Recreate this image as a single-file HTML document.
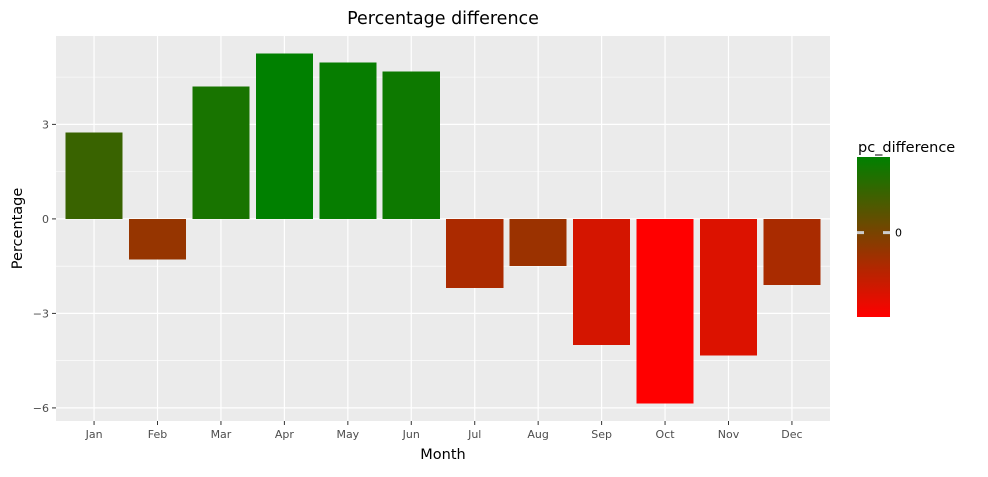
<!DOCTYPE html>
<html><head><meta charset="utf-8"><style>
body{margin:0;background:#fff;font-family:"Liberation Sans","DejaVu Sans",sans-serif}
svg text{font-family:"DejaVu Sans","Liberation Sans",sans-serif}
</style></head><body>
<svg id="c" width="988" height="472"></svg>
<script>
const categories=["Jan","Feb","Mar","Apr","May","Jun","Jul","Aug","Sep","Oct","Nov","Dec"];
const values=[2.75,-1.29,4.2,5.25,4.97,4.68,-2.2,-1.5,-4.0,-5.86,-4.33,-2.1];
const yTicks=[3,0,-3,-6];
const yMinor=[4.5,1.5,-1.5,-4.5];
const NS="http://www.w3.org/2000/svg";
const svg=document.getElementById('c');
function mk(t,a,p){const e=document.createElementNS(NS,t);for(const k in a)e.setAttribute(k,a[k]);(p||svg).appendChild(e);return e;}
const L=56,R=830,T=36,B=421;
const vmin=Math.min(...values),vmax=Math.max(...values),ex=(vmax-vmin)*0.05;
const y0=vmin-ex,y1=vmax+ex;
const y=v=>B-(v-y0)/(y1-y0)*(B-T);
const step=(R-L)/(categories.length+0.2);
const x=i=>L+(i+0.6)*step;
const col=v=>{const t=(v-vmin)/(vmax-vmin);return `rgb(${Math.round(255*(1-t))},${Math.round(128*t)},0)`;};
let e=mk('rect',{x:L,y:T,width:R-L,height:B-T,fill:'#EBEBEB'});
yMinor.forEach(v=>{const l=mk('line',{x1:L,x2:R,y1:y(v),y2:y(v),stroke:'#fff','stroke-width':0.6});});
yTicks.forEach(v=>{const l=mk('line',{x1:L,x2:R,y1:y(v),y2:y(v),stroke:'#fff','stroke-width':1.2});
 const tk=mk('line',{x1:L-4,x2:L,y1:y(v),y2:y(v),stroke:'#333','stroke-width':1});
 const t=mk('text',{x:L-7,y:y(v)+4,'text-anchor':'end','font-size':11,fill:'#4d4d4d'});t.textContent=v<0?'\u2212'+(-v):v;});
categories.forEach((c,i)=>{const l=mk('line',{x1:x(i),x2:x(i),y1:T,y2:B,stroke:'#fff','stroke-width':1.2});});
categories.forEach((c,i)=>{const v=values[i],w=step*0.9;
 const r=mk('rect',{x:x(i)-w/2,y:Math.min(y(v),y(0)),width:w,height:Math.abs(y(v)-y(0)),fill:col(v),'shape-rendering':'crispEdges'});
 const tk=mk('line',{x1:x(i),x2:x(i),y1:B,y2:B+4,stroke:'#333'});
 const t=mk('text',{x:x(i),y:B+17,'text-anchor':'middle','font-size':11,fill:'#4d4d4d'});t.textContent=c;});
e=mk('text',{x:(L+R)/2,y:24,'text-anchor':'middle','font-size':17.5,fill:'#000'});e.textContent='Percentage difference';
e=mk('text',{x:(L+R)/2,y:459,'text-anchor':'middle','font-size':14.5,fill:'#000'});e.textContent='Month';
e=mk('text',{x:22,y:(T+B)/2,'text-anchor':'middle','font-size':14.5,fill:'#000',transform:`rotate(-90 22 ${(T+B)/2})`});e.textContent='Percentage';
const defs=mk('defs',{});const g=mk('linearGradient',{id:'lg',x1:0,y1:1,x2:0,y2:0},defs);
for(let k=0;k<=20;k++){mk('stop',{offset:k/20,'stop-color':col(vmin+(vmax-vmin)*k/20)},g);}
e=mk('text',{x:858,y:152,'font-size':14.5,fill:'#000'});e.textContent='pc_difference';
const cT=157,cB=317;
e=mk('rect',{x:857,y:cT,width:33,height:cB-cT,fill:'url(#lg)'});
const zy=cB-(0-vmin)/(vmax-vmin)*(cB-cT);
e=mk('line',{x1:857,x2:864,y1:zy,y2:zy,stroke:'#ccc','stroke-width':3});
e=mk('line',{x1:883,x2:890,y1:zy,y2:zy,stroke:'#ccc','stroke-width':3});
e=mk('text',{x:895,y:zy+4,'font-size':11,fill:'#000'});e.textContent='0';
</script>
</body></html>
